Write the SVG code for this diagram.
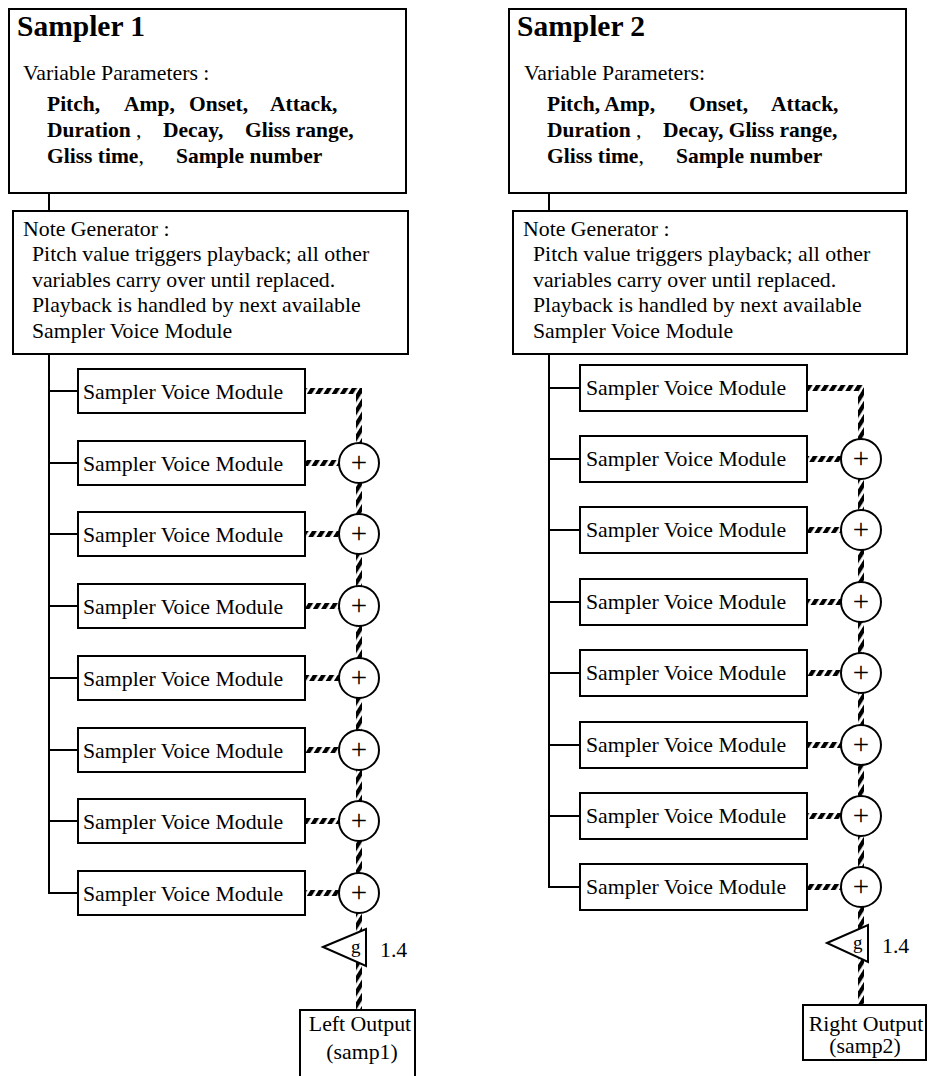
<svg xmlns="http://www.w3.org/2000/svg" width="928" height="1076" viewBox="0 0 928 1076">
  <defs>
    <!-- slanted dashes used for the audio signal paths -->
    <pattern id="stripes" patternUnits="userSpaceOnUse" width="7" height="7" patternTransform="rotate(32)">
      <rect x="0" y="0" width="4.2" height="7" fill="#000"/>
    </pattern>
    <style>
      .box { fill: #fff; stroke: #000; stroke-width: 2; }
      .wire { stroke: #000; stroke-width: 2; fill: none; }
      .sig { fill: url(#stripes); }
      .sum { fill: #fff; stroke: #000; stroke-width: 2; }
      .t { font-family: "Liberation Serif", "Times New Roman", serif; font-size: 21.8px; fill: #000; }
      .b { font-family: "Liberation Serif", "Times New Roman", serif; font-size: 21.5px; font-weight: bold; fill: #000; }
      .title { font-family: "Liberation Serif", "Times New Roman", serif; font-size: 29.5px; font-weight: bold; fill: #000; }
      .plus { font-family: "Liberation Serif", "Times New Roman", serif; font-size: 29px; fill: #000; text-anchor: middle; }
      .g { font-family: "Liberation Serif", "Times New Roman", serif; font-size: 19px; fill: #000; }
      .c { text-anchor: middle; }
    </style>
  </defs>
  <rect width="928" height="1076" fill="#fff"/>

  <!-- ===== connectors ===== -->
  <g id="connectors">
    <!-- control wiring, sampler 1 -->
    <line class="wire" x1="49" y1="193" x2="49" y2="211"/>
    <line class="wire" x1="49" y1="354" x2="49" y2="894"/>
    <line class="wire" x1="48" y1="391" x2="78" y2="391"/>
    <line class="wire" x1="48" y1="463" x2="78" y2="463"/>
    <line class="wire" x1="48" y1="534" x2="78" y2="534"/>
    <line class="wire" x1="48" y1="606" x2="78" y2="606"/>
    <line class="wire" x1="48" y1="678" x2="78" y2="678"/>
    <line class="wire" x1="48" y1="750" x2="78" y2="750"/>
    <line class="wire" x1="48" y1="821" x2="78" y2="821"/>
    <line class="wire" x1="48" y1="893" x2="78" y2="893"/>

    <!-- control wiring, sampler 2 -->
    <line class="wire" x1="549" y1="193" x2="549" y2="211"/>
    <line class="wire" x1="549" y1="354" x2="549" y2="888"/>
    <line class="wire" x1="548" y1="388" x2="580" y2="388"/>
    <line class="wire" x1="548" y1="459" x2="580" y2="459"/>
    <line class="wire" x1="548" y1="530" x2="580" y2="530"/>
    <line class="wire" x1="548" y1="602" x2="580" y2="602"/>
    <line class="wire" x1="548" y1="673" x2="580" y2="673"/>
    <line class="wire" x1="548" y1="745" x2="580" y2="745"/>
    <line class="wire" x1="548" y1="816" x2="580" y2="816"/>
    <line class="wire" x1="548" y1="887" x2="580" y2="887"/>

    <!-- audio paths, sampler 1 -->
    <rect class="sig" x="305" y="388" width="57" height="6"/>
    <rect class="sig" x="356" y="388" width="6" height="55"/>
    <rect class="sig" x="305" y="460" width="34" height="6"/>
    <rect class="sig" x="305" y="531" width="34" height="6"/>
    <rect class="sig" x="305" y="603" width="34" height="6"/>
    <rect class="sig" x="305" y="675" width="34" height="6"/>
    <rect class="sig" x="305" y="747" width="34" height="6"/>
    <rect class="sig" x="305" y="818" width="34" height="6"/>
    <rect class="sig" x="305" y="890" width="34" height="6"/>
    <rect class="sig" x="356" y="483" width="6" height="31"/>
    <rect class="sig" x="356" y="554" width="6" height="32"/>
    <rect class="sig" x="356" y="626" width="6" height="32"/>
    <rect class="sig" x="356" y="698" width="6" height="32"/>
    <rect class="sig" x="356" y="770" width="6" height="31"/>
    <rect class="sig" x="356" y="841" width="6" height="32"/>
    <rect class="sig" x="356" y="913" width="6" height="97"/>

    <!-- audio paths, sampler 2 -->
    <rect class="sig" x="807" y="385" width="57" height="6"/>
    <rect class="sig" x="858" y="385" width="6" height="54"/>
    <rect class="sig" x="807" y="456" width="34" height="6"/>
    <rect class="sig" x="807" y="527" width="34" height="6"/>
    <rect class="sig" x="807" y="599" width="34" height="6"/>
    <rect class="sig" x="807" y="670" width="34" height="6"/>
    <rect class="sig" x="807" y="742" width="34" height="6"/>
    <rect class="sig" x="807" y="813" width="34" height="6"/>
    <rect class="sig" x="807" y="884" width="34" height="6"/>
    <rect class="sig" x="858" y="479" width="6" height="31"/>
    <rect class="sig" x="858" y="550" width="6" height="32"/>
    <rect class="sig" x="858" y="622" width="6" height="31"/>
    <rect class="sig" x="858" y="693" width="6" height="32"/>
    <rect class="sig" x="858" y="765" width="6" height="31"/>
    <rect class="sig" x="858" y="836" width="6" height="31"/>
    <rect class="sig" x="858" y="907" width="6" height="98"/>
  </g>

  <!-- ===== sampler 1 ===== -->
  <g id="sampler1-params">
    <rect class="box" x="9" y="9" width="397" height="184"/>
    <text class="title" x="17" y="36">Sampler 1</text>
    <text class="t" x="23" y="80">Variable Parameters :</text>
    <text class="b" x="47" y="111">Pitch,</text>
    <text class="b" x="124" y="111">Amp,</text>
    <text class="b" x="189" y="111">Onset,</text>
    <text class="b" x="270" y="111">Attack,</text>
    <text class="b" x="47" y="137">Duration</text>
    <text class="t" x="136" y="137">,</text>
    <text class="b" x="163" y="137">Decay,</text>
    <text class="b" x="245" y="137">Gliss range,</text>
    <text class="b" x="47" y="163">Gliss time<tspan class="t" font-weight="normal">,</tspan></text>
    <text class="b" x="176" y="163">Sample number</text>
  </g>

  <g id="sampler1-note-generator">
    <rect class="box" x="13" y="211" width="395" height="143"/>
    <text class="t" x="23" y="236">Note Generator :</text>
    <text class="t" x="32" y="261">Pitch value triggers playback; all other</text>
    <text class="t" x="32" y="286.5">variables carry over until replaced.</text>
    <text class="t" x="32" y="312">Playback is handled by next available</text>
    <text class="t" x="32" y="337.5">Sampler Voice Module</text>
  </g>

  <g id="s1-voice-1"><rect class="box" x="78" y="369" width="227" height="44"/><text class="t" x="83" y="399">Sampler Voice Module</text></g>
  <g id="s1-voice-2"><rect class="box" x="78" y="441" width="227" height="44"/><text class="t" x="83" y="471">Sampler Voice Module</text></g>
  <g id="s1-voice-3"><rect class="box" x="78" y="512" width="227" height="44"/><text class="t" x="83" y="542">Sampler Voice Module</text></g>
  <g id="s1-voice-4"><rect class="box" x="78" y="584" width="227" height="44"/><text class="t" x="83" y="614">Sampler Voice Module</text></g>
  <g id="s1-voice-5"><rect class="box" x="78" y="656" width="227" height="44"/><text class="t" x="83" y="686">Sampler Voice Module</text></g>
  <g id="s1-voice-6"><rect class="box" x="78" y="728" width="227" height="44"/><text class="t" x="83" y="758">Sampler Voice Module</text></g>
  <g id="s1-voice-7"><rect class="box" x="78" y="799" width="227" height="44"/><text class="t" x="83" y="829">Sampler Voice Module</text></g>
  <g id="s1-voice-8"><rect class="box" x="78" y="871" width="227" height="44"/><text class="t" x="83" y="901">Sampler Voice Module</text></g>

  <g id="s1-sum-2"><circle class="sum" cx="359" cy="463" r="20"/><text class="plus" x="359" y="472">+</text></g>
  <g id="s1-sum-3"><circle class="sum" cx="359" cy="534" r="20"/><text class="plus" x="359" y="543">+</text></g>
  <g id="s1-sum-4"><circle class="sum" cx="359" cy="606" r="20"/><text class="plus" x="359" y="615">+</text></g>
  <g id="s1-sum-5"><circle class="sum" cx="359" cy="678" r="20"/><text class="plus" x="359" y="687">+</text></g>
  <g id="s1-sum-6"><circle class="sum" cx="359" cy="750" r="20"/><text class="plus" x="359" y="759">+</text></g>
  <g id="s1-sum-7"><circle class="sum" cx="359" cy="821" r="20"/><text class="plus" x="359" y="830">+</text></g>
  <g id="s1-sum-8"><circle class="sum" cx="359" cy="893" r="20"/><text class="plus" x="359" y="902">+</text></g>

  <g id="s1-gain">
    <polygon class="sum" points="323,947 366,929 366,966"/>
    <text class="g" x="351" y="953">g</text>
    <text class="t" x="380" y="957" font-size="20">1.4</text>
  </g>

  <g id="s1-output">
    <rect class="box" x="300" y="1010" width="115" height="80"/>
    <text class="t c" x="360" y="1031">Left Output</text>
    <text class="t c" x="362" y="1059">(samp1)</text>
  </g>

  <!-- ===== sampler 2 ===== -->
  <g id="sampler2-params">
    <rect class="box" x="509" y="9" width="397" height="184"/>
    <text class="title" x="517" y="36">Sampler 2</text>
    <text class="t" x="524" y="80">Variable Parameters:</text>
    <text class="b" x="547" y="111">Pitch, Amp,</text>
    <text class="b" x="689" y="111">Onset,</text>
    <text class="b" x="771" y="111">Attack,</text>
    <text class="b" x="547" y="137">Duration</text>
    <text class="t" x="636" y="137">,</text>
    <text class="b" x="663" y="137">Decay, Gliss range,</text>
    <text class="b" x="547" y="163">Gliss time<tspan class="t" font-weight="normal">,</tspan></text>
    <text class="b" x="676" y="163">Sample number</text>
  </g>

  <g id="sampler2-note-generator">
    <rect class="box" x="513" y="211" width="394" height="143"/>
    <text class="t" x="523" y="236">Note Generator :</text>
    <text class="t" x="533" y="261">Pitch value triggers playback; all other</text>
    <text class="t" x="533" y="286.5">variables carry over until replaced.</text>
    <text class="t" x="533" y="312">Playback is handled by next available</text>
    <text class="t" x="533" y="337.5">Sampler Voice Module</text>
  </g>

  <g id="s2-voice-1"><rect class="box" x="580" y="365" width="227" height="46"/><text class="t" x="586" y="395">Sampler Voice Module</text></g>
  <g id="s2-voice-2"><rect class="box" x="580" y="436" width="227" height="46"/><text class="t" x="586" y="466">Sampler Voice Module</text></g>
  <g id="s2-voice-3"><rect class="box" x="580" y="507" width="227" height="46"/><text class="t" x="586" y="537">Sampler Voice Module</text></g>
  <g id="s2-voice-4"><rect class="box" x="580" y="579" width="227" height="46"/><text class="t" x="586" y="609">Sampler Voice Module</text></g>
  <g id="s2-voice-5"><rect class="box" x="580" y="650" width="227" height="46"/><text class="t" x="586" y="680">Sampler Voice Module</text></g>
  <g id="s2-voice-6"><rect class="box" x="580" y="722" width="227" height="46"/><text class="t" x="586" y="752">Sampler Voice Module</text></g>
  <g id="s2-voice-7"><rect class="box" x="580" y="793" width="227" height="46"/><text class="t" x="586" y="823">Sampler Voice Module</text></g>
  <g id="s2-voice-8"><rect class="box" x="580" y="864" width="227" height="46"/><text class="t" x="586" y="894">Sampler Voice Module</text></g>

  <g id="s2-sum-2"><circle class="sum" cx="861" cy="459" r="20"/><text class="plus" x="861" y="468">+</text></g>
  <g id="s2-sum-3"><circle class="sum" cx="861" cy="530" r="20"/><text class="plus" x="861" y="539">+</text></g>
  <g id="s2-sum-4"><circle class="sum" cx="861" cy="602" r="20"/><text class="plus" x="861" y="611">+</text></g>
  <g id="s2-sum-5"><circle class="sum" cx="861" cy="673" r="20"/><text class="plus" x="861" y="682">+</text></g>
  <g id="s2-sum-6"><circle class="sum" cx="861" cy="745" r="20"/><text class="plus" x="861" y="754">+</text></g>
  <g id="s2-sum-7"><circle class="sum" cx="861" cy="816" r="20"/><text class="plus" x="861" y="825">+</text></g>
  <g id="s2-sum-8"><circle class="sum" cx="861" cy="887" r="20"/><text class="plus" x="861" y="896">+</text></g>

  <g id="s2-gain">
    <polygon class="sum" points="827,943 868,925 868,962"/>
    <text class="g" x="853" y="949">g</text>
    <text class="t" x="882" y="953" font-size="20">1.4</text>
  </g>

  <g id="s2-output">
    <rect class="box" x="803" y="1005" width="123" height="55"/>
    <text class="t c" x="866" y="1031">Right Output</text>
    <text class="t c" x="865" y="1053">(samp2)</text>
  </g>
</svg>
